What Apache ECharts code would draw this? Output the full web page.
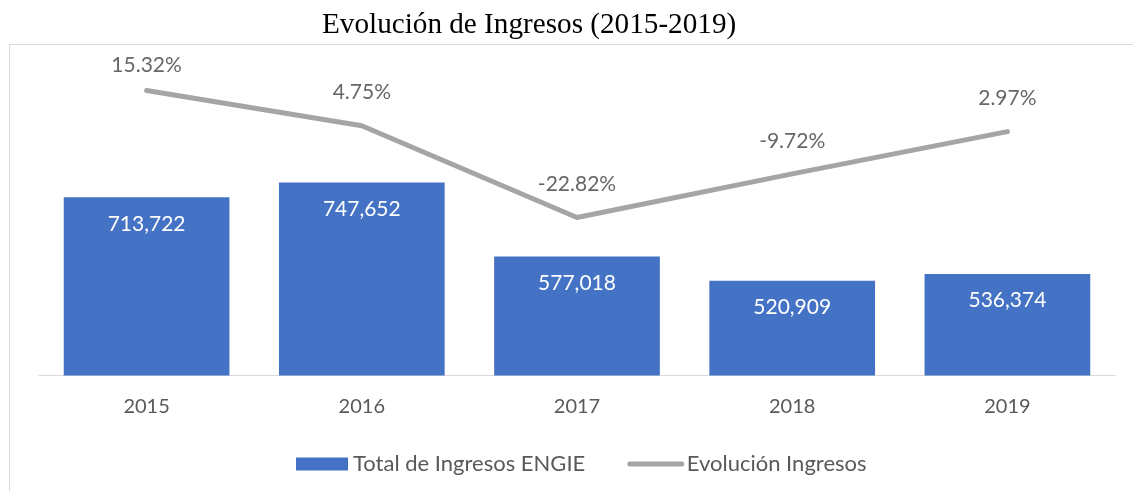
<!DOCTYPE html>
<html>
<head>
<meta charset="utf-8">
<style>
  html, body { margin: 0; padding: 0; background: #ffffff; }
  #chart { width: 1133px; height: 491px; }
</style>
<script src="https://cdn.jsdelivr.net/npm/echarts@6/dist/echarts.min.js"></script>
</head>
<body>
<div id="chart"></div>
<script>
// Ingresos ENGIE 2015-2019
const years = ['2015', '2016', '2017', '2018', '2019'];
const totalIngresos = [713722, 747652, 577018, 520909, 536374];
const evolucionPct = [15.32, 4.75, -22.82, -9.72, 2.97];

const sans = 'Lato, "Open Sans", sans-serif';
const fmtNum = v => v.toLocaleString('en-US');

const chart = echarts.init(document.getElementById('chart'), null, { renderer: 'canvas' });

chart.setOption({
  animation: false,
  backgroundColor: '#ffffff',
  title: {
    text: 'Evolución de Ingresos (2015-2019)',
    left: 317,
    top: 6,
    textStyle: {
      fontFamily: '"Liberation Serif", "Times New Roman", serif',
      fontWeight: 'normal',
      fontSize: 29.2,
      color: '#000000'
    }
  },
  graphic: [{
    type: 'rect',
    silent: true,
    z: -1,
    shape: { x: 9.5, y: 44.5, width: 1200, height: 500 },
    style: { fill: 'none', stroke: '#d9d9d9', lineWidth: 1 }
  }],
  legend: {
    left: 291,
    top: 448,
    itemWidth: 52,
    itemHeight: 13,
    itemGap: 42,
    textStyle: { fontFamily: sans, fontSize: 22, color: '#595959' },
    lineStyle: { width: 5, cap: 'round' },
    data: [
      { name: 'Total de Ingresos ENGIE', icon: 'rect' },
      { name: 'Evolución Ingresos', itemStyle: { opacity: 0 } }
    ]
  },
  grid: { left: 39, right: 18, top: 30, bottom: 115.5 },
  xAxis: {
    type: 'category',
    data: years,
    axisTick: { show: false },
    axisLine: { onZero: false, lineStyle: { color: '#d9d9d9', width: 1 } },
    axisLabel: { fontFamily: sans, fontSize: 20, color: '#595959', margin: 21 }
  },
  yAxis: [
    { type: 'value', min: 302000, max: 1100000, show: false, splitLine: { show: false } },
    { type: 'value', min: -70.3, max: 33.5, show: false, splitLine: { show: false } }
  ],
  series: [
    {
      name: 'Total de Ingresos ENGIE',
      type: 'bar',
      data: totalIngresos,
      barWidth: '77%',
      itemStyle: { color: '#4472c4' },
      label: {
        show: true,
        position: 'insideTop',
        distance: 16,
        fontFamily: sans,
        fontSize: 21,
        color: '#ffffff',
        formatter: p => fmtNum(p.value)
      }
    },
    {
      name: 'Evolución Ingresos',
      type: 'line',
      yAxisIndex: 1,
      data: evolucionPct,
      symbol: 'none',
      lineStyle: { color: '#a5a5a5', width: 5, cap: 'round', join: 'round' },
      itemStyle: { color: '#a5a5a5' },
      z: 3
    },
    {
      // percentage labels above each point of the line
      name: 'Etiquetas evolución',
      type: 'scatter',
      yAxisIndex: 1,
      silent: true,
      symbolSize: 1,
      itemStyle: { color: 'rgba(0,0,0,0)' },
      data: evolucionPct.map((v, i) => ({
        value: v,
        label: { distance: i === 0 ? 14 : 22 }
      })),
      label: {
        show: true,
        position: 'top',
        fontFamily: sans,
        fontSize: 21,
        color: '#404040',
        formatter: p => p.value.toFixed(2) + '%'
      },
      z: 4
    }
  ]
});
</script>
</body>
</html>
